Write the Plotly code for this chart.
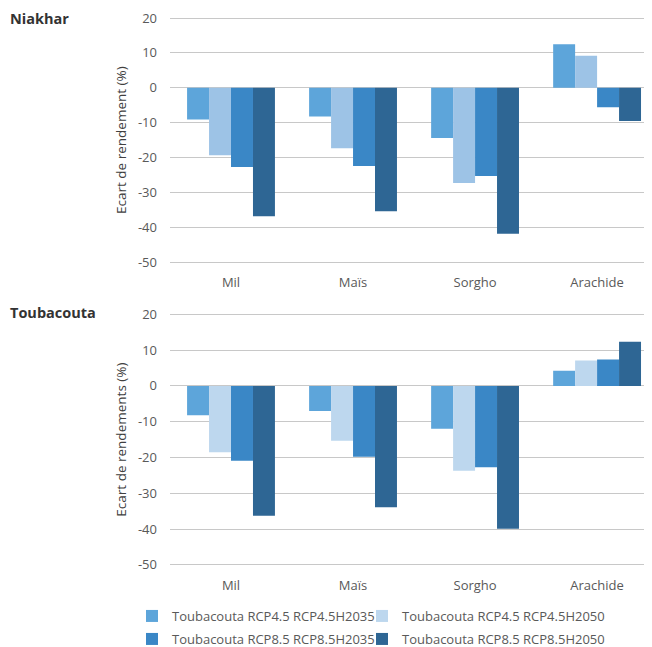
import plotly.graph_objects as go

categories = ["Mil", "Maïs", "Sorgho", "Arachide"]
series_names = [
    "Toubacouta RCP4.5 RCP4.5H2035",
    "Toubacouta RCP4.5 RCP4.5H2050",
    "Toubacouta RCP8.5 RCP8.5H2035",
    "Toubacouta RCP8.5 RCP8.5H2050",
]
niakhar_s1 = [-9.1, -8.2, -14.4, 12.5]
niakhar_s2 = [-19.3, -17.3, -27.3, 9.2]
niakhar_s3 = [-22.7, -22.4, -25.3, -5.6]
niakhar_s4 = [-36.8, -35.4, -41.8, -9.5]
toub_s1 = [-8.2, -7.0, -12.0, 4.2]
toub_s2 = [-18.5, -15.3, -23.7, 7.1]
toub_s3 = [-20.9, -19.8, -22.7, 7.4]
toub_s4 = [-36.3, -33.9, -39.9, 12.3]
y_tick_vals = [20, 10, 0, -10, -20, -30, -40, -50]
y_tick_text = ["20", "10", "0", "-10", "-20", "-30", "-40", "-50"]

colors_top = ["#5DA5DA", "#9DC3E6", "#3A87C6", "#2E6694"]
colors_bot = ["#5DA5DA", "#BDD7EE", "#3A87C6", "#2E6694"]

FONT = "Open Sans"
TICK = "#595959"
W, H = 652, 647
OFF = 8  # page body margin

legend_names = ["legend3", "legend", "legend4", "legend2"]
draw_order = ["legend", "legend2", "legend3", "legend4"]

fig = go.Figure()
for i, vals in enumerate([niakhar_s1, niakhar_s2, niakhar_s3, niakhar_s4]):
    fig.add_trace(go.Bar(x=categories, y=vals, name=series_names[i],
                         marker=dict(color=colors_top[i], line=dict(width=0)),
                         xaxis="x", yaxis="y", showlegend=False,
                         legend=draw_order[i]))
for i, vals in enumerate([toub_s1, toub_s2, toub_s3, toub_s4]):
    fig.add_trace(go.Bar(x=categories, y=vals, name=series_names[i],
                         marker=dict(color=colors_bot[i], line=dict(width=0)),
                         xaxis="x2", yaxis="y2", legend=legend_names[i]))

xcommon = dict(range=[-0.5, 3.45], showgrid=False, zeroline=False, showline=False,
               ticks="", tickfont=dict(family=FONT, size=13, color=TICK),
               ticklabelstandoff=10, fixedrange=True,
               domain=[(170 - OFF) / W, (652 - OFF) / W])
ycommon = dict(range=[-50.3, 20.3], tickvals=y_tick_vals, ticktext=y_tick_text,
               showgrid=True, gridcolor="#C8C8C8",
               gridwidth=1, zeroline=True, zerolinecolor="#C8C8C8", zerolinewidth=1,
               showline=False, ticks="", tickfont=dict(family=FONT, size=13, color=TICK),
               ticklabelstandoff=12, fixedrange=True)

leg = dict(orientation="h", xanchor="left", yanchor="middle",
           xref="paper", yref="paper",
           font=dict(family=FONT, size=13, color=TICK), bgcolor="rgba(0,0,0,0)",
           borderwidth=0)
leg_pos = [(132, 616), (362, 616), (132, 639), (362, 639)]

layout_legends = {}
for name, (px, py) in zip(legend_names, leg_pos):
    layout_legends[name] = dict(x=(px - OFF) / W, y=1 - (py - OFF) / H, **leg)


def ydom(top_px, bottom_px):
    return [1 - (bottom_px - OFF) / H, 1 - (top_px - OFF) / H]


fig.update_layout(
    width=W, height=H,
    margin=dict(l=0, r=0, t=0, b=0, autoexpand=False),
    paper_bgcolor="white", plot_bgcolor="white",
    barmode="group", bargap=0.28, bargroupgap=0,
    font=dict(family=FONT, size=13, color=TICK),
    xaxis=dict(anchor="y", **xcommon),
    yaxis=dict(domain=ydom(17, 263.3), anchor="x",
               title=dict(text="Ecart de rendement (%)", standoff=8,
                          font=dict(family=FONT, size=13.5, color="#404040")),
               **ycommon),
    xaxis2=dict(anchor="y2", **xcommon),
    yaxis2=dict(domain=ydom(313.2, 566), anchor="x2",
                title=dict(text="Ecart de rendements (%)", standoff=8,
                           font=dict(family=FONT, size=13.5, color="#404040")),
                **ycommon),
    annotations=[
        dict(text="<b>Niakhar</b>", x=0, y=1 - (18 - OFF) / H, xref="paper", yref="paper",
             xanchor="left", yanchor="middle", showarrow=False,
             font=dict(family=FONT, size=14.5, color="#333333")),
        dict(text="<b>Toubacouta</b>", x=0, y=1 - (312 - OFF) / H, xref="paper", yref="paper",
             xanchor="left", yanchor="middle", showarrow=False,
             font=dict(family=FONT, size=14.5, color="#333333")),
    ],
    **layout_legends,
)

fig.write_html("out.html")
